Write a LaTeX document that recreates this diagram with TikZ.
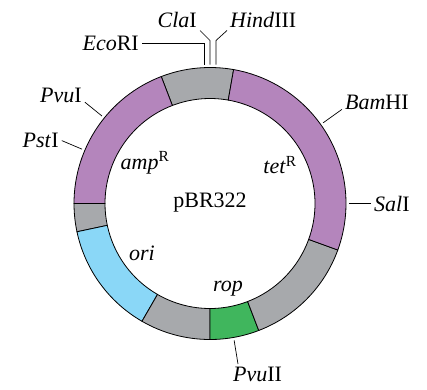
\documentclass[tikz,border=0pt]{standalone}
\usepackage{fontspec}
\setmainfont{Liberation Serif}
\usetikzlibrary{positioning}
\definecolor{RingPurple}{RGB}{180,133,188}
\definecolor{RingGray}{RGB}{167,169,172}
\definecolor{RingBlue}{RGB}{138,215,247}
\definecolor{RingGreen}{RGB}{64,182,93}

\begin{document}
\begin{tikzpicture}[x=1pt, y=1pt,
    site/.style={inner sep=3pt, font=\fontsize{22}{26}\selectfont},
    gene/.style={inner sep=0pt, font=\fontsize{22}{26}\selectfont},
    cut/.style={line width=0.7pt}]
    \useasboundingbox (-210,-185.5) rectangle (217,203.5);

    % Plasmid ring
    \foreach \a/\b/\col in {80/111/RingGray, 111/180/RingPurple, 180/192/RingGray, 192/240/RingBlue,
                            240/270/RingGray, 270/291/RingGreen, 291/340/RingGray, 340/440/RingPurple} {
      \filldraw[fill=\col, line width=0.8pt] (\a:136) arc[start angle=\a, end angle=\b, radius=136pt]
        -- (\b:105) arc[start angle=\b, end angle=\a, radius=105pt] -- cycle;
    }
    \foreach \n/\a in {eco/92.5, cla/90, hind/87.5, pvu/141, pst/157, bam/35.5, sal/0, pvuii/-80} {
      \coordinate (\n) at (\a:139);
    }

    % Genes
    \node[gene] (amp) at (-65,40.5) {\textit{amp}\textsuperscript{R}};
    \node[gene] (tet) at (70,38.5) {\textit{tet}\textsuperscript{R}};
    \node[gene] (pbr) at (0,0.5) {pBR322};
    \node[gene] (ori) at (-68,-49.5) {\textit{ori}};
    \node[gene] (rop) at (18,-85.5) {\textit{rop}};

    % Restriction sites
    \node[site, anchor=east] (ecoRI) at (-68,160.5) {\textit{Eco}RI};
    \node[site, anchor=south east] (claI) at (-10,173) {\textit{Cla}I};
    \node[site, anchor=south west] (hindIII) at (17,173) {\textit{Hind}III};
    \node[site, anchor=base east] (pvuI) at (141:161) {\textit{Pvu}I};
    \node[site, anchor=east] (pstI) at (157:161) {\textit{Pst}I};
    \node[site, anchor=base west] (bamHI) at (35.5:162) {\textit{Bam}HI};
    \node[site, anchor=west] (salI) at (0:161) {\textit{Sal}I};
    \node[site, anchor=north west] (pvuII) at (20,-160.5) {\textit{Pvu}II};

    \draw[cut] (ecoRI.east) -| (eco);
    \draw[cut] (claI.south east) -- ++(10,-10) -- (cla);
    \draw[cut] (hindIII.south west) -- ++(-11,-10) -- (hind);
    \draw[cut] (pvuI.base east) -- (pvu);
    \draw[cut] (pstI.east) -- (pst);
    \draw[cut] (bamHI.base west) -- (bam);
    \draw[cut] (salI.west) -- (sal);
    \draw[cut] ([xshift=8pt]pvuII.north west) -- (pvuii);
  \end{tikzpicture}
\end{document}
